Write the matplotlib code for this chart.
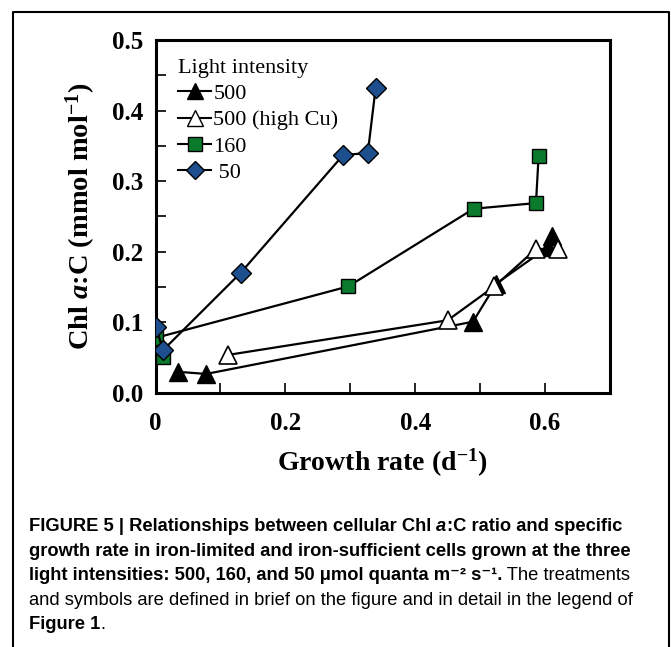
import matplotlib
matplotlib.use("Agg")
import matplotlib.pyplot as plt
from matplotlib.lines import Line2D
from matplotlib.ticker import MultipleLocator
from matplotlib.transforms import IdentityTransform

# growth rate (d-1) and Chl a:C (mmol mol-1)
x500 = [0.035, 0.078, 0.489, 0.525, 0.605, 0.611]
y500 = [0.030, 0.027, 0.101, 0.155, 0.207, 0.222]

x500cu = [0.112, 0.450, 0.522, 0.586, 0.620]
y500cu = [0.054, 0.103, 0.151, 0.204, 0.204]

x160 = [0.011, 0.000, 0.297, 0.490, 0.586, 0.590]
y160 = [0.051, 0.078, 0.151, 0.261, 0.269, 0.335]

x50 = [0.000, 0.012, 0.131, 0.289, 0.327, 0.339]
y50 = [0.094, 0.061, 0.170, 0.337, 0.340, 0.432]

labels = ["500", "500 (high Cu)", "160", " 50"]

BLUE = "#1d4f8f"
GREEN = "#0b7a2c"

plt.rcParams["mathtext.fontset"] = "custom"
plt.rcParams["mathtext.rm"] = "Liberation Serif:bold"
plt.rcParams["mathtext.bf"] = "Liberation Serif:bold"
plt.rcParams["mathtext.it"] = "Liberation Serif:bold:italic"

fig = plt.figure(figsize=(6.71, 6.47), dpi=100)
ax = fig.add_axes([155.5 / 671, 1 - 393 / 647, (610 - 155.5) / 671, (393 - 40) / 647])

lw = 1.6
ax.plot(x500, y500, "-", color="black", lw=lw, marker="^", ms=13,
        mfc="black", mec="black", mew=1, zorder=3)
ax.plot(x500cu, y500cu, "-", color="black", lw=lw, marker="^", ms=13,
        mfc="white", mec="black", mew=1.2, zorder=4)
ax.plot(x160, y160, "-", color="black", lw=lw, marker="s", ms=10,
        mfc=GREEN, mec="black", mew=1, zorder=3)
ax.plot(x50, y50, "-", color="black", lw=lw, marker="D", ms=10,
        mfc=BLUE, mec="black", mew=1, zorder=5)

ax.set_xlim(0, 0.7)
ax.set_ylim(0, 0.5)
ax.xaxis.set_major_locator(MultipleLocator(0.2))
ax.xaxis.set_minor_locator(MultipleLocator(0.1))
ax.yaxis.set_major_locator(MultipleLocator(0.1))
ax.yaxis.set_minor_locator(MultipleLocator(0.05))
ax.tick_params(which="both", direction="in", top=False, right=False,
               length=7, width=1.2)
ax.tick_params(axis="x", which="major", pad=14)
ax.tick_params(axis="y", which="major", pad=9)
for s in ax.spines.values():
    s.set_linewidth(2.2)

ax.xaxis.set_major_formatter(plt.FuncFormatter(lambda v, p: "0" if abs(v) < 1e-9 else "%.1f" % v))
ax.yaxis.set_major_formatter(plt.FuncFormatter(lambda v, p: "%.1f" % v))
for t in ax.get_xticklabels() + ax.get_yticklabels():
    t.set_fontfamily("Liberation Serif")
    t.set_fontweight("bold")
    t.set_fontsize(18)

ax.set_xlabel(r"Growth rate (d$^{-1}$)", fontfamily="Liberation Serif",
              fontweight="bold", fontsize=20, labelpad=8)
ax.set_ylabel(r"Chl $\mathit{a}$:C (mmol mol$^{-1}$)", fontfamily="Liberation Serif",
              fontweight="bold", fontsize=20.5, labelpad=10)

handles = [
    Line2D([], [], color="black", lw=1.5, marker="^", ms=11, mfc="black", mec="black"),
    Line2D([], [], color="black", lw=1.5, marker="^", ms=11, mfc="white", mec="black"),
    Line2D([], [], color="black", lw=1.5, marker="s", ms=10, mfc=GREEN, mec="black"),
    Line2D([], [], color="black", lw=1.5, marker="D", ms=9, mfc=BLUE, mec="black"),
]
leg = ax.legend(handles, labels, title="Light intensity", loc="upper left",
                bbox_to_anchor=(0.02, 0.985), frameon=False,
                prop={"family": "Liberation Serif", "size": 16},
                title_fontproperties={"family": "Liberation Serif", "size": 16},
                handlelength=1.5, handletextpad=0.1, labelspacing=0.26,
                borderaxespad=0.2)
leg._legend_box.align = "left"

# outer frame
fig.add_artist(Line2D([12.5, 12.5, 668.5, 668.5], [0, 635, 635, 0],
                      transform=IdentityTransform(), color="black", lw=1.5))

# caption
cap_fam = ["Liberation Sans", "DejaVu Sans"]
cap_size = 13.2
lines = [
    [("FIGURE 5 | Relationships between cellular Chl ", "bold", "normal"),
     ("a", "bold", "italic"),
     (":C ratio and specific", "bold", "normal")],
    [("growth rate in iron-limited and iron-sufficient cells grown at the three", "bold", "normal")],
    [("light intensities: 500, 160, and 50 \u03bcmol quanta m\u207b\u00b2 s\u207b\u00b9.", "bold", "normal"),
     (" The treatments", "normal", "normal")],
    [("and symbols are defined in brief on the figure and in detail in the legend of", "normal", "normal")],
    [("Figure 1", "bold", "normal"), (".", "normal", "normal")],
]
baselines = [531, 556, 580, 605, 629]

fig.canvas.draw()
renderer = fig.canvas.get_renderer()


def text_width(s, weight, style):
    # spaces at the ends are measured with a guard character
    t = fig.text(0, 0, "|" + s + "|", fontsize=cap_size, fontweight=weight,
                 fontstyle=style, family=cap_fam)
    t2 = fig.text(0, 0, "||", fontsize=cap_size, fontweight=weight,
                  fontstyle=style, family=cap_fam)
    w = t.get_window_extent(renderer).width - t2.get_window_extent(renderer).width
    t.remove()
    t2.remove()
    return w


for parts, yb in zip(lines, baselines):
    xp = 29
    for s, w, st in parts:
        fig.text(xp, 647 - yb, s, fontsize=cap_size, fontweight=w, fontstyle=st,
                 family=cap_fam, va="baseline", ha="left",
                 transform=IdentityTransform())
        xp += text_width(s, w, st)

fig.savefig("out.png", dpi=100)
